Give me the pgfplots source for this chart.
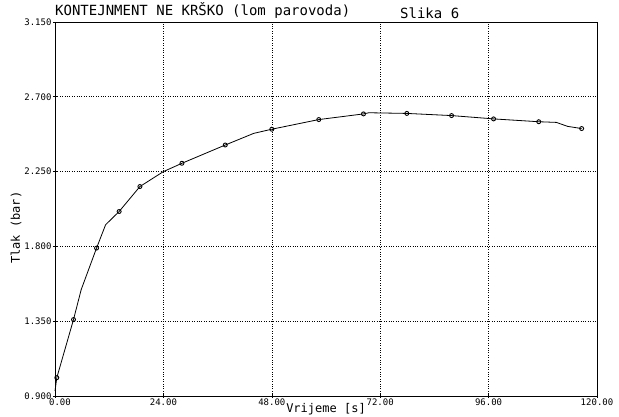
\documentclass[border=0pt]{standalone}
\usepackage{pgfplots}
\pgfplotsset{compat=1.18}
\usepackage{fontspec}
\setmainfont{DejaVu Sans Mono}

\begin{document}
\begin{tikzpicture}
\begin{axis}[
    scale only axis,
    width=542pt, height=374pt,
    xmin=0, xmax=120,
    ymin=0.9, ymax=3.15,
    xtick={0,24,48,72,96,120},
    xticklabels={\hspace*{10pt}0.00,24.00,48.00,72.00,96.00,120.00},
    ytick={0.9,1.35,1.8,2.25,2.7,3.15},
    yticklabels={0.900,1.350,1.800,2.250,2.700,3.150},
    xtick pos=left, ytick pos=left,
    tick align=center,
    major tick length=4pt,
    tick style={black, line width=0.6pt},
    grid=major,
    grid style={black, dotted, line width=0.6pt},
    axis line style={black, line width=0.9pt},
    ticklabel style={font=\fontsize{9}{10}\selectfont},
    xticklabel style={yshift=3pt},
    yticklabel style={xshift=2pt},
    xlabel={Vrijeme [s]},
    ylabel={Tlak (bar)},
    label style={font=\fontsize{12}{13}\selectfont},
    xlabel style={yshift=9pt},
    ylabel style={yshift=-4pt, at={(ticklabel cs:0.45)}},
    clip=false,
]
\coordinate (sw) at (rel axis cs:0,0);
\coordinate (ne) at (rel axis cs:1,1);
\coordinate (tl) at (rel axis cs:0,1);
\addplot[black, line width=0.8pt] coordinates {
    (0,0.93) (0.4,1.01) (4.1,1.36) (5.8,1.54) (9.2,1.79) (11.2,1.93)
    (14.2,2.01) (18.8,2.16) (24,2.25) (28.1,2.30) (37.7,2.41) (44,2.48)
    (48,2.505) (58.4,2.563) (68.3,2.597) (69.5,2.604) (77.9,2.600)
    (87.8,2.587) (95.3,2.571) (97.1,2.567) (107.1,2.550) (111,2.546)
    (113.5,2.522) (116.6,2.509)
};
\addplot[only marks, mark=o, mark size=2pt, black, line width=0.9pt] coordinates {
    (0.4,1.01) (4.1,1.36) (9.2,1.79) (14.2,2.01) (18.8,2.16) (28.1,2.30)
    (37.7,2.41) (48,2.505) (58.4,2.563) (68.3,2.597) (77.9,2.600)
    (87.8,2.587) (97.1,2.567) (107.1,2.550) (116.6,2.509)
};
\end{axis}
\node[anchor=south west, inner sep=0pt, font=\fontsize{14}{15}\selectfont] at ([yshift=3pt]tl) {KONTEJNMENT NE KRŠKO (lom parovoda)};
\node[anchor=south west, inner sep=0pt, font=\fontsize{14}{15}\selectfont] at ([xshift=345pt,yshift=3pt]tl) {Slika 6};
\pgfresetboundingbox
\path[use as bounding box] ([xshift=-55pt,yshift=-21pt]sw) rectangle ([xshift=22pt,yshift=22pt]ne);
\end{tikzpicture}
\end{document}
